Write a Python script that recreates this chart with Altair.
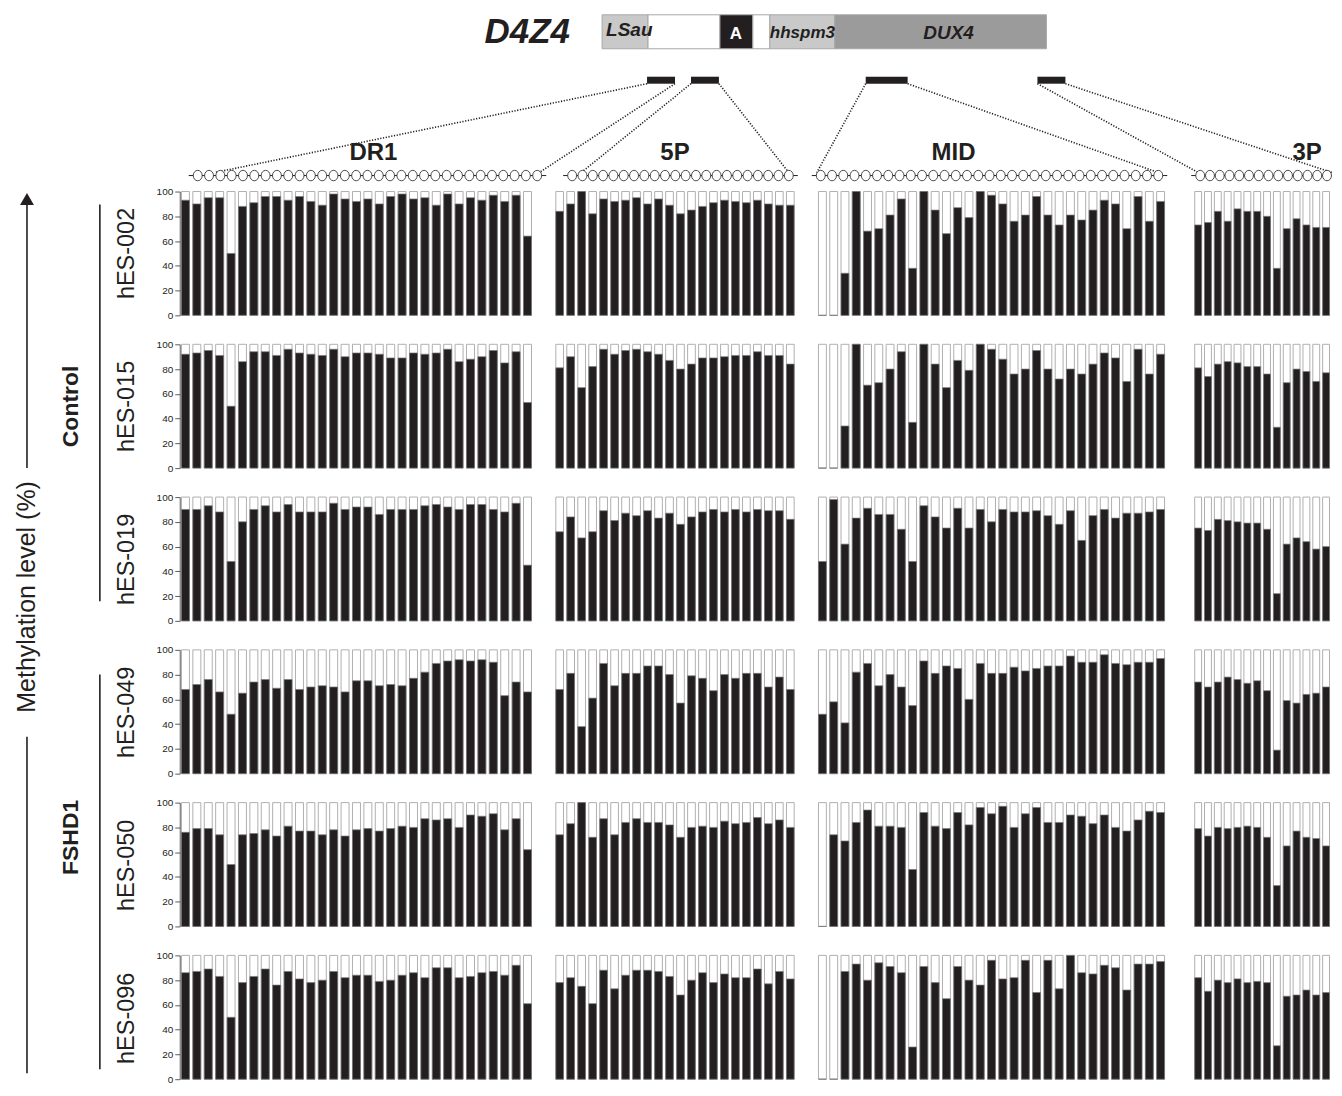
import altair as alt
import numpy as np
import pandas as pd

# ---------------- data ----------------
samples = ["hES-002", "hES-015", "hES-019", "hES-049", "hES-050", "hES-096"]
groups = ["Control", "FSHD1"]
regions = ["DR1", "5P", "MID", "3P"]

dr1_002 = [93, 90, 95, 95, 50, 88, 91, 96, 96, 93, 96, 92, 89, 98, 94, 92, 94, 90, 96, 98, 94, 95, 89, 98, 90, 95, 93, 97, 92, 97, 64]
dr1_015 = [92, 93, 95, 91, 50, 86, 94, 94, 91, 96, 93, 92, 91, 96, 90, 93, 93, 92, 89, 89, 93, 92, 93, 96, 86, 88, 90, 95, 85, 94, 53]
dr1_019 = [90, 90, 93, 88, 48, 80, 90, 93, 88, 94, 88, 88, 88, 95, 90, 92, 92, 86, 90, 90, 90, 93, 94, 92, 90, 94, 94, 90, 88, 95, 45]
dr1_049 = [68, 72, 76, 66, 48, 65, 74, 76, 69, 76, 68, 70, 71, 70, 66, 75, 75, 71, 72, 71, 77, 82, 89, 91, 92, 91, 92, 90, 63, 74, 66]
dr1_050 = [76, 79, 79, 74, 50, 74, 75, 78, 73, 81, 77, 77, 74, 78, 73, 78, 79, 77, 79, 81, 80, 87, 86, 87, 80, 90, 89, 91, 78, 87, 62]
dr1_096 = [86, 87, 89, 83, 50, 78, 83, 89, 76, 87, 81, 78, 80, 87, 82, 84, 84, 79, 80, 84, 86, 82, 90, 90, 82, 83, 86, 87, 84, 92, 61]

p5_002 = [84, 90, 100, 82, 94, 92, 93, 95, 90, 94, 89, 82, 85, 88, 91, 93, 92, 91, 93, 90, 89, 89]
p5_015 = [81, 90, 65, 82, 96, 92, 95, 96, 94, 92, 87, 80, 84, 89, 89, 90, 91, 91, 94, 91, 91, 84]
p5_019 = [72, 84, 67, 72, 89, 81, 87, 85, 89, 83, 87, 78, 84, 88, 90, 88, 90, 88, 90, 89, 89, 82]
p5_049 = [68, 81, 38, 61, 89, 71, 81, 81, 87, 87, 80, 57, 79, 77, 67, 80, 77, 81, 81, 70, 78, 68]
p5_050 = [74, 83, 100, 72, 87, 74, 84, 87, 84, 84, 82, 72, 80, 81, 80, 85, 83, 84, 88, 83, 86, 80]
p5_096 = [78, 82, 75, 61, 88, 73, 84, 88, 88, 87, 83, 68, 80, 86, 78, 85, 82, 82, 89, 77, 87, 81]

mid_002 = [0, 0, 34, 100, 68, 70, 81, 94, 38, 100, 85, 66, 87, 79, 100, 97, 90, 76, 81, 96, 81, 73, 81, 77, 85, 93, 90, 70, 96, 76, 92]
mid_015 = [0, 0, 34, 100, 67, 69, 80, 94, 37, 100, 84, 65, 87, 79, 100, 96, 88, 76, 80, 95, 80, 72, 80, 76, 84, 93, 89, 70, 96, 76, 92]
mid_019 = [48, 98, 62, 83, 91, 86, 86, 74, 48, 93, 84, 75, 91, 75, 90, 80, 90, 88, 88, 89, 85, 78, 89, 65, 85, 90, 83, 87, 87, 88, 90]
mid_049 = [48, 58, 41, 82, 89, 71, 80, 70, 55, 91, 81, 87, 85, 60, 89, 81, 81, 86, 83, 85, 87, 87, 95, 90, 90, 96, 89, 88, 90, 90, 93]
mid_050 = [0, 74, 69, 84, 94, 81, 81, 80, 46, 92, 81, 79, 92, 82, 96, 91, 97, 80, 91, 96, 84, 84, 90, 89, 83, 90, 80, 77, 86, 93, 92]
mid_096 = [0, 0, 87, 93, 80, 94, 91, 86, 26, 91, 78, 65, 91, 80, 76, 96, 81, 82, 96, 70, 96, 73, 100, 86, 85, 92, 90, 72, 93, 93, 95]

p3_002 = [73, 75, 84, 76, 86, 84, 84, 80, 38, 70, 78, 73, 71, 71]
p3_015 = [81, 74, 84, 86, 85, 82, 82, 76, 33, 69, 80, 78, 70, 77]
p3_019 = [75, 73, 82, 81, 80, 79, 79, 74, 22, 62, 67, 64, 58, 60]
p3_049 = [74, 70, 74, 78, 76, 73, 75, 67, 19, 59, 57, 64, 65, 70]
p3_050 = [79, 73, 80, 79, 80, 81, 80, 72, 33, 65, 77, 72, 71, 65]
p3_096 = [82, 71, 80, 78, 81, 78, 79, 78, 27, 67, 68, 72, 68, 70]

table = {
    "DR1": [dr1_002, dr1_015, dr1_019, dr1_049, dr1_050, dr1_096],
    "5P": [p5_002, p5_015, p5_019, p5_049, p5_050, p5_096],
    "MID": [mid_002, mid_015, mid_019, mid_049, mid_050, mid_096],
    "3P": [p3_002, p3_015, p3_019, p3_049, p3_050, p3_096],
}

# ---------------- style / layout ----------------
BLACK = "#231f20"
SANS = "Liberation Sans, Arial, sans-serif"
PANEL_W = {"DR1": 354, "5P": 242, "MID": 350, "3P": 138}
PANEL_H = 124
ROW_SPACING = 19
HW, HH = 1326, 178
ROW_TOP = 8 + HH + 5      # page y of first plot top
ROW_PERIOD = 153.2        # page distance between plot tops


def panel(values, region, show_axis):
    df = pd.DataFrame({"cpg": list(range(1, len(values) + 1)), "meth": values})
    xenc = alt.X("cpg:O", axis=None,
                 scale=alt.Scale(paddingInner=0.3, paddingOuter=0.15))
    yscale = alt.Scale(domain=[0, 100], nice=False, zero=True)
    if show_axis:
        yaxis = alt.Axis(values=[0, 20, 40, 60, 80, 100], title=None,
                         labelFont=SANS, labelFontSize=10, labelColor=BLACK,
                         tickColor="#333333", tickSize=5, tickWidth=0.8,
                         domainColor="#333333", domainWidth=0.8,
                         grid=False, labelPadding=2)
    else:
        yaxis = None
    bg = alt.Chart(df).transform_calculate(full="100").mark_bar(
        fill="white", stroke="#b0b0b0", strokeWidth=1
    ).encode(x=xenc, y=alt.Y("full:Q", scale=yscale, axis=yaxis))
    fg = alt.Chart(df).mark_bar(
        fill=BLACK, stroke="#7a7a7a", strokeWidth=0.7
    ).encode(x=xenc, y=alt.Y("meth:Q", scale=yscale, axis=yaxis))
    return alt.layer(bg, fg).properties(width=PANEL_W[region], height=PANEL_H)


rows = []
for i, s in enumerate(samples):
    left3 = alt.hconcat(panel(table["DR1"][i], "DR1", True),
                        panel(table["5P"][i], "5P", False),
                        panel(table["MID"][i], "MID", False), spacing=21)
    rows.append(alt.hconcat(left3, panel(table["3P"][i], "3P", False), spacing=27))
grid = alt.vconcat(*rows, spacing=ROW_SPACING)

# ---------------- header (schematic) ----------------
HY0 = 8
HX = alt.Scale(domain=[8, 8 + HW], nice=False, zero=False)
HY = alt.Scale(domain=[HY0, HY0 + HH], nice=False, zero=False, reverse=True)


def X(f):
    return alt.X(f, type="quantitative", scale=HX, axis=None)


def Y(f):
    return alt.Y(f, type="quantitative", scale=HY, axis=None)


gene_parts = pd.DataFrame({
    "x": [603, 649, 721, 754, 771, 836],
    "x2": [649, 721, 754, 771, 836, 1048],
    "y": [14] * 6, "y2": [48] * 6,
    "fill": ["#c9c9c9", "#ffffff", BLACK, "#ffffff", "#c9c9c9", "#9b9b9c"],
})
gene = alt.Chart(gene_parts).mark_rect(stroke="#a8a8a8", strokeWidth=1).encode(
    x=X("x"), x2="x2", y=Y("y"), y2="y2", fill=alt.Fill("fill:N", scale=None))

blocks_df = pd.DataFrame({"x": [648, 692, 867, 1039], "x2": [676, 720, 909, 1067],
                          "y": [76] * 4, "y2": [83] * 4})
blocks = alt.Chart(blocks_df).mark_rect(fill=BLACK).encode(
    x=X("x"), x2="x2", y=Y("y"), y2="y2")

# region CpG strings (circles) - one circle per CpG in each region
reg_span = {"DR1": (198, 538), "5P": (573, 790), "MID": (822, 1160), "3P": (1202, 1329)}
circ_rows = []
line_rows = []
for r in regions:
    n = len(table[r][0])
    a, b = reg_span[r]
    for xx in np.linspace(a, b, n):
        circ_rows.append({"x": float(xx), "y": 175})
    line_rows.append({"x": a - 9, "x2": min(b + 9, 8 + HW), "y": 175, "y2": 175})
circ_df = pd.DataFrame(circ_rows)
cpg_line = alt.Chart(pd.DataFrame(line_rows)).mark_rule(color=BLACK, strokeWidth=1).encode(
    x=X("x"), x2="x2", y=Y("y"), y2="y2")
ELLIPSE = "M -0.85 0 A 0.85 1 0 1 0 0.85 0 A 0.85 1 0 1 0 -0.85 0 Z"
circles = alt.Chart(circ_df).mark_point(
    shape=ELLIPSE, size=110, filled=True, fill="white", stroke=BLACK,
    strokeWidth=0.8, opacity=1).encode(x=X("x"), y=Y("y"))

dots_df = pd.DataFrame({
    "x": [648, 676, 692, 720, 867, 909, 1039, 1067],
    "y": [83] * 8,
    "x2": [215, 540, 582, 790, 818, 1160, 1200, 1334],
    "y2": [172] * 8,
})
dots = alt.Chart(dots_df).mark_rule(color=BLACK, strokeWidth=1.6, strokeDash=[1.2, 1.6]).encode(
    x=X("x"), x2="x2", y=Y("y"), y2="y2")

title_df = pd.DataFrame({"x": [374, 676, 955, 1309], "y": [152] * 4, "t": regions})
region_titles = alt.Chart(title_df).mark_text(
    font=SANS, fontSize=24, fontWeight="bold", color=BLACK, baseline="middle"
).encode(x=X("x"), y=Y("y"), text="t:N")

d4z4 = alt.Chart(pd.DataFrame({"x": [528], "y": [31], "t": ["D4Z4"]})).mark_text(
    font=SANS, fontSize=35, fontWeight="bold", fontStyle="italic", color=BLACK,
    baseline="middle").encode(x=X("x"), y=Y("y"), text="t:N")

lsau_label = alt.Chart(pd.DataFrame({"x": [607], "y": [29], "t": ["LSau"]})).mark_text(
    font=SANS, fontSize=19, fontWeight="bold", fontStyle="italic", color=BLACK,
    align="left", baseline="middle").encode(x=X("x"), y=Y("y"), text="t:N")
hh_label = alt.Chart(pd.DataFrame({"x": [771], "y": [32], "t": ["hhspm3"]})).mark_text(
    font=SANS, fontSize=17, fontWeight="bold", fontStyle="italic", color=BLACK,
    align="left", baseline="middle").encode(x=X("x"), y=Y("y"), text="t:N")
dux_label = alt.Chart(pd.DataFrame({"x": [950], "y": [32], "t": ["DUX4"]})).mark_text(
    font=SANS, fontSize=19, fontWeight="bold", fontStyle="italic", color=BLACK,
    baseline="middle").encode(x=X("x"), y=Y("y"), text="t:N")
a_label = alt.Chart(pd.DataFrame({"x": [737], "y": [33], "t": ["A"]})).mark_text(
    font=SANS, fontSize=17, fontWeight="bold", color="white",
    baseline="middle").encode(x=X("x"), y=Y("y"), text="t:N")

header = alt.layer(gene, blocks, dots, cpg_line, circles, region_titles, d4z4,
                   lsau_label, hh_label, dux_label, a_label).properties(width=HW, height=HH)

# ---------------- left labels ----------------
LW, LH = 140, 886
LY0 = ROW_TOP
LX = alt.Scale(domain=[8, 8 + LW], nice=False, zero=False)
LYs = alt.Scale(domain=[LY0, LY0 + LH], nice=False, zero=False, reverse=True)


def LXe(f):
    return alt.X(f, type="quantitative", scale=LX, axis=None)


def LYe(f):
    return alt.Y(f, type="quantitative", scale=LYs, axis=None)


row_tops = [ROW_TOP + ROW_PERIOD * i for i in range(6)]
samp_df = pd.DataFrame({"x": [127] * 6,
                        "y": [t + PANEL_H / 2 for t in row_tops],
                        "t": samples})
samp_text = alt.Chart(samp_df).mark_text(
    font=SANS, fontSize=23.5, angle=270, color=BLACK, baseline="middle"
).encode(x=LXe("x"), y=LYe("y"), text="t:N")

ctrl_mid = (row_tops[0] + row_tops[2] + PANEL_H) / 2
fshd_mid = (row_tops[3] + row_tops[5] + PANEL_H) / 2
grp_df = pd.DataFrame({"x": [71, 71], "y": [ctrl_mid, fshd_mid - 28], "t": groups})
grp_text = alt.Chart(grp_df).mark_text(
    font=SANS, fontSize=23, fontWeight="bold", angle=270, color=BLACK, baseline="middle"
).encode(x=LXe("x"), y=LYe("y"), text="t:N")

grp_lines = alt.Chart(pd.DataFrame({
    "x": [100, 100],
    "y": [row_tops[0] + 13, row_tops[3] + 24],
    "y2": [row_tops[2] + PANEL_H - 20, row_tops[5] + PANEL_H - 11]})).mark_rule(
    color=BLACK, strokeWidth=1.6).encode(x=LXe("x"), y=LYe("y"), y2="y2")

meth_text = alt.Chart(pd.DataFrame({"x": [27], "y": [597], "t": ["Methylation level (%)"]})).mark_text(
    font=SANS, fontSize=25, angle=270, color=BLACK, baseline="middle"
).encode(x=LXe("x"), y=LYe("y"), text="t:N")

arrow_lines = alt.Chart(pd.DataFrame({"x": [27, 27], "y": [468, 737], "y2": [204, 1074]})).mark_rule(
    color=BLACK, strokeWidth=1.6).encode(x=LXe("x"), y=LYe("y"), y2="y2")
arrow_head = alt.Chart(pd.DataFrame({"x": [27], "y": [199]})).mark_point(
    shape="triangle-up", size=110, filled=True, fill=BLACK, stroke=BLACK, opacity=1
).encode(x=LXe("x"), y=LYe("y"))

left = alt.layer(samp_text, grp_text, grp_lines, meth_text, arrow_lines, arrow_head).properties(
    width=LW, height=LH)

chart = alt.vconcat(
    header,
    alt.hconcat(left, grid, spacing=8),
    spacing=0,
).properties(padding=0).configure_view(stroke=None)

chart.save("out.html", embed_options={"renderer": "svg", "actions": False})
